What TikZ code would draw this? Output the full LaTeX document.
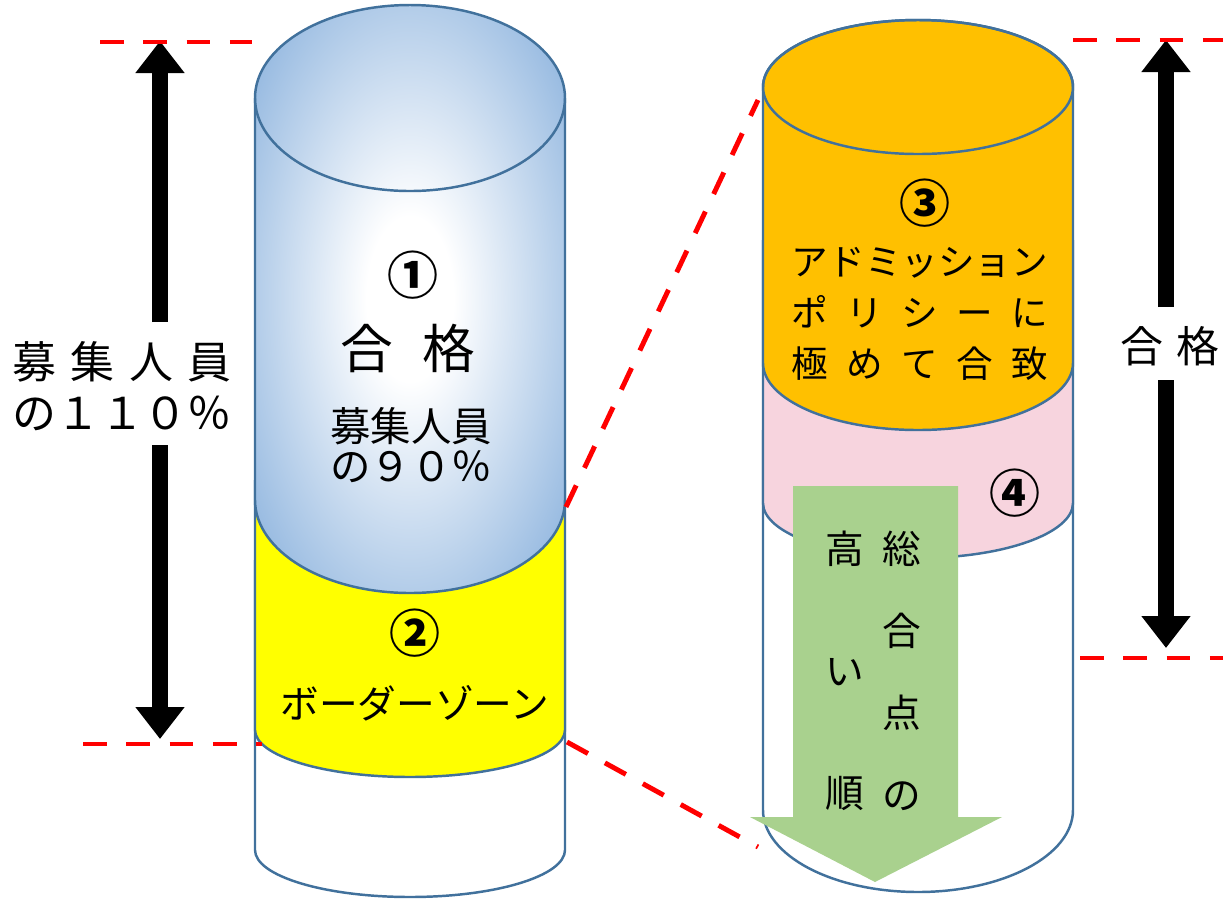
\documentclass[tikz,border=0pt]{standalone}
\usepackage{fontspec}
\setmainfont{Noto Sans CJK JP}
\usetikzlibrary{arrows.meta}
\definecolor{outline}{RGB}{65,113,156}
\definecolor{cylblue}{RGB}{110,159,213}
\definecolor{cylyellow}{RGB}{255,255,0}
\definecolor{cylorange}{RGB}{255,192,0}
\definecolor{cylpink}{RGB}{247,212,222}
\definecolor{arrowgreen}{RGB}{169,209,142}
\pgfdeclareradialshading{glassblue}{\pgfpoint{0bp}{0bp}}{color(0bp)=(white); color(7bp)=(white); color(41bp)=(cylblue); color(80bp)=(cylblue)}
\tikzset{
  cyl/.style={draw=outline,line width=0.7pt},
  cutline/.style={draw=red,line width=1.4pt,dash pattern=on 6.8pt off 5.5pt},
  bigarrow/.style={draw=black,line width=4.55pt,-{Triangle[width=13.4pt,length=9.1pt]}},
  numlabel/.style={font=\fontsize{14.5}{16}\selectfont\bfseries},
  vtext/.style={font=\fontsize{11}{11}\selectfont,align=center}
}

\begin{document}
\begin{tikzpicture}[x=0.01cm,y=0.01cm]
                   \path[use as bounding box,fill=white] (0,0) rectangle (1223,-899);

                   \filldraw[cyl,fill=white] (255,-560) -- (255,-850) arc[start angle=180,end angle=360,x radius=155,y radius=47] -- (565,-560);
                   \filldraw[cyl,fill=cylyellow] (255,-480) -- (255,-730) arc[start angle=180,end angle=360,x radius=155,y radius=47] -- (565,-480);
                   \shade[shading=glassblue] (255,-98) arc[start angle=180,end angle=0,x radius=155,y radius=93] -- (565,-500) arc[start angle=0,end angle=-180,x radius=155,y radius=93] -- cycle;
                   \draw[cyl] (255,-98) -- (255,-500) arc[start angle=180,end angle=360,x radius=155,y radius=93] -- (565,-98);
                   \draw[cyl] (410,-98) ellipse[x radius=155,y radius=93];

                   \filldraw[cyl,fill=white] (763,-430) -- (763,-810) arc[start angle=180,end angle=360,x radius=155,y radius=82] -- (1073,-430);
                   \filldraw[cyl,fill=cylpink] (763,-240) -- (763,-503) arc[start angle=180,end angle=360,x radius=155,y radius=55] -- (1073,-240);
                   \filldraw[cyl,fill=cylorange] (763,-87) -- (763,-363) arc[start angle=180,end angle=360,x radius=155,y radius=67] -- (1073,-87) arc[start angle=0,end angle=180,x radius=155,y radius=67] -- cycle;
                   \draw[cyl] (918,-87) ellipse[x radius=155,y radius=67];
                   \fill[arrowgreen] (793,-486) -- (958,-486) -- (958,-817) -- (1002,-817) -- (875,-882) -- (750,-817) -- (793,-817) -- cycle;

                   \node[numlabel] (num_1) at (413,-275) {①};
                   \node[font=\fontsize{15}{18}\selectfont] (pass_1) at (408,-348) {合\kern8.5pt格};
                   \node[font=\fontsize{11.5}{11.4}\selectfont,align=center] (quota_90) at (411,-445) {募集人員\\の９０％};
                   \node[numlabel] (num_2) at (415,-633) {②};
                   \node[font=\fontsize{11}{13}\selectfont] (border) at (415,-703) {ボーダーゾーン};
                   \node[numlabel] (num_3) at (925,-203) {③};
                   \node[font=\fontsize{10.4}{14.5}\selectfont,align=center] (policy) at (920,-314) {アドミッション\\\makebox[7em][s]{ポ\hfill リ\hfill シ\hfill ー\hfill に}\\\makebox[7em][s]{極\hfill め\hfill て\hfill 合\hfill 致}};
                   \node[numlabel] (num_4) at (1015,-493) {④};
                   \node[vtext] (order_r) at (902,-671) {総\\[12.3pt]合\\[12.3pt]点\\[12.3pt]の};
                   \node[vtext] (order_l) at (845,-671) {高\\[23.7pt]い\\[23.7pt]順};

                   \node[font=\fontsize{12.5}{14.5}\selectfont,align=center] (quota_110) at (122,-386) {\makebox[5em][s]{募\hfill 集\hfill 人\hfill 員}\\の１１０％};
                   \coordinate (cap_top) at (160,-41);
                   \coordinate (cap_up) at (160,-322);
                   \coordinate (cap_dn) at (160,-445);
                   \coordinate (cap_bot) at (160,-739);
                   \draw[bigarrow] (cap_up) -- (cap_top);
                   \draw[bigarrow] (cap_dn) -- (cap_bot);

                   \node[font=\fontsize{12.2}{14}\selectfont] (pass_2) at (1170,-346) {合\kern3.5pt格};
                   \coordinate (pass_top) at (1166,-40);
                   \coordinate (pass_up) at (1166,-307);
                   \coordinate (pass_dn) at (1166,-380);
                   \coordinate (pass_bot) at (1166,-648);
                   \draw[bigarrow] (pass_up) -- (pass_top);
                   \draw[bigarrow] (pass_dn) -- (pass_bot);

                   \coordinate (cut_la) at (100,-42);
                   \coordinate (cut_lb) at (252,-42);
                   \coordinate (cut_lc) at (83,-744);
                   \coordinate (cut_ld) at (262,-744);
                   \coordinate (cut_ra) at (1073,-40);
                   \coordinate (cut_rb) at (1223,-40);
                   \coordinate (cut_rc) at (1080,-658);
                   \coordinate (cut_rd) at (1223,-658);
                   \coordinate (zoom_a) at (566,-507);
                   \coordinate (zoom_b) at (758,-100);
                   \coordinate (zoom_c) at (567,-742);
                   \coordinate (zoom_d) at (758,-847);
                   \path[cutline]
                    (cut_la) edge (cut_lb)
                    (cut_lc) edge (cut_ld)
                    (cut_ra) edge (cut_rb)
                    (cut_rc) edge (cut_rd)
                    (zoom_a) edge (zoom_b)
                    (zoom_c) edge (zoom_d);
                \end{tikzpicture}
\end{document}
